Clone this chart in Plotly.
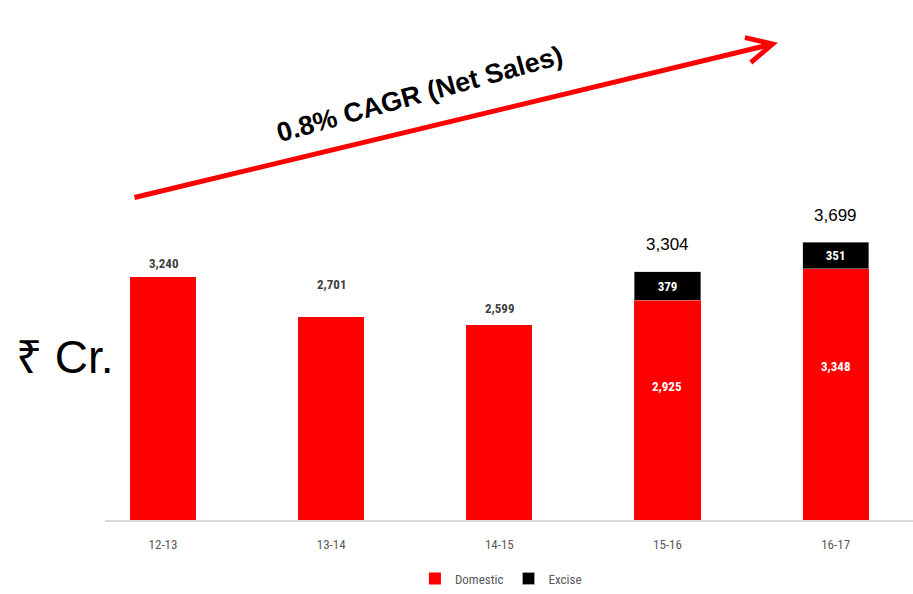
import plotly.graph_objects as go

years = ["12-13", "13-14", "14-15", "15-16", "16-17"]
domestic = [3240, 2701, 2599, 2925, 3348]
excise = [None, None, None, 379, 351]
totals = [3240, 2701, 2599, 3304, 3699]
cagr_text = "0.8% CAGR (Net Sales)"
unit_text = "₹ Cr."

W, H = 913, 594
ML, MR, MT, MB = 105, 0, 20, 70
PW, PH = W - ML - MR, H - MT - MB
px_per_unit = 0.0757
ymax = PH / px_per_unit

narrow = "Liberation Sans Narrow, Arial Narrow, Roboto Condensed, sans-serif"

fig = go.Figure()
fig.add_bar(
    x=years, y=domestic, name="Domestic", marker=dict(color="#FF0000", line=dict(width=0)),
)
fig.add_bar(
    x=years, y=excise, name="Excise", marker=dict(color="#000000", line=dict(width=0.5, color="#bfbfbf")),
    text=[f"<b>{v:,}</b>" if v else "" for v in excise], textposition="inside", insidetextanchor="middle",
    textfont=dict(family=narrow, size=13, color="white"), textangle=0,
)

# labels above domestic-only bars
shifts = [4, 23, 7]
for i, (yr, d, e) in enumerate(zip(years, domestic, excise)):
    if e is None:
        fig.add_annotation(x=yr, y=d, text=f"<b>{d:,}</b>", showarrow=False, yanchor="bottom",
                           yshift=shifts[i], font=dict(family=narrow, size=13, color="#404040"))
    else:
        fig.add_annotation(x=yr, y=d * 0.61, text=f"<b>{d:,}</b>", showarrow=False,
                           font=dict(family=narrow, size=13, color="white"))
        fig.add_annotation(x=yr, y=totals[i], text=f"{totals[i]:,}", showarrow=False,
                           yanchor="middle", yshift=27,
                           font=dict(family="Liberation Sans, Arial, sans-serif", size=17, color="black"))

# CAGR arrow
tip_x, tip_y = (778 - ML) / PW, (MT + PH - 43) / PH
fig.add_annotation(xref="paper", yref="paper", x=tip_x, y=tip_y, ax=-645, ay=155,
                   showarrow=True, arrowhead=5, arrowsize=1.0, arrowwidth=5, arrowcolor="#FF0000", text="")
fig.add_annotation(xref="paper", yref="paper", x=(420 - ML) / PW, y=(MT + PH - 95) / PH,
                   xanchor="center", yanchor="middle",
                   text=f"<b>{cagr_text}</b>", showarrow=False, textangle=-15.5,
                   font=dict(family="Liberation Sans, Arial, sans-serif", size=27, color="black"))
fig.add_annotation(xref="paper", yref="paper", x=(65 - ML) / PW, y=(MT + PH - 360) / PH,
                   xanchor="center", yanchor="middle",
                   text=unit_text, showarrow=False,
                   font=dict(family="Liberation Sans, Arial, sans-serif", size=46, color="black"))

fig.update_layout(
    width=W, height=H, margin=dict(l=ML, r=MR, t=MT, b=MB),
    barmode="stack", bargap=0.607,
    plot_bgcolor="white", paper_bgcolor="white",
    showlegend=True,
    legend=dict(orientation="h", x=0.49, xanchor="center", y=(MT + PH - 583) / PH, yanchor="middle",
                traceorder="normal",
                font=dict(family=narrow, size=13, color="#595959"), itemwidth=30, tracegroupgap=0),
    xaxis=dict(range=[-0.345, 4.46], showline=True, linecolor="#d9d9d9", linewidth=1.5,
               showgrid=False, ticks="outside", ticklen=12, tickcolor="rgba(0,0,0,0)",
               tickfont=dict(family=narrow, size=13, color="#595959")),
    yaxis=dict(range=[0, ymax], visible=False, showgrid=False),
)

fig.write_html("out.html")
